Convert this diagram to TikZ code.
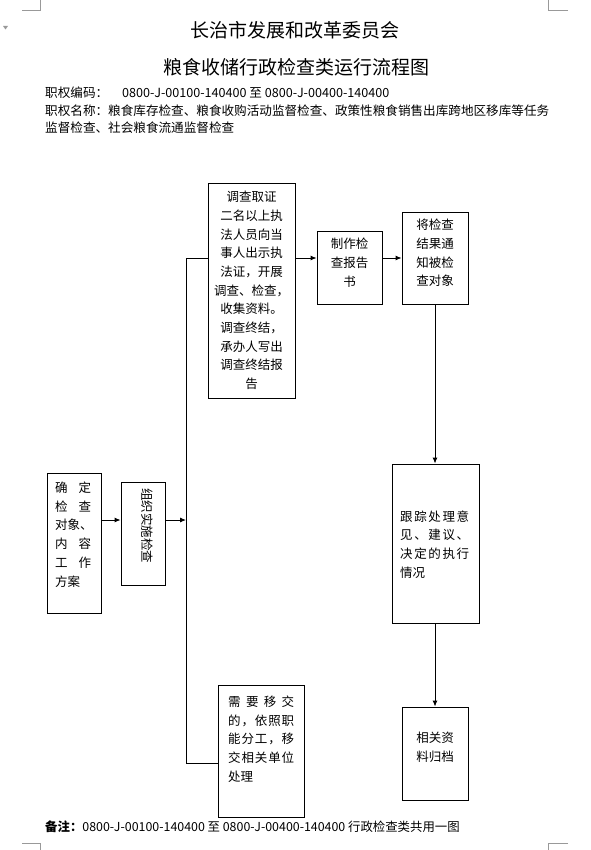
\documentclass[tikz,border=0pt]{standalone}
\usepackage{fontspec}
\setmainfont{Noto Sans CJK SC}
\usetikzlibrary{arrows.meta}
\begin{document}
\begin{tikzpicture}[x=1pt,y=-1pt,
  box/.style={draw=black, line width=0.9pt, inner sep=0pt},
  txt/.style={inner sep=0pt, font=\fontsize{12.5}{18.7}\selectfont},
  hdr/.style={inner sep=0pt, anchor=west, font=\fontsize{12.6}{15}\selectfont},
  ttl/.style={inner sep=0pt, font=\fontsize{19}{22}\selectfont},
  arr/.style={line width=0.9pt, -{Latex[length=6pt,width=5pt]}},
  ln/.style={line width=0.9pt},
  cropmk/.style={draw=black!40, line width=0.6pt}
]
\useasboundingbox (0,0) rectangle (590,850);
% crop marks
\draw[cropmk] (22,10) -- (40,10) -- (40,0);
\draw[cropmk] (568,10) -- (548,10) -- (548,0);
\draw[cropmk] (22,843) -- (40,843) -- (40,850);
\draw[cropmk] (568,843) -- (548,843) -- (548,850);
\fill[black!40] (3,26) -- (8,26) -- (5.5,29.5) -- cycle;

% titles and header
\node[ttl] (t1) at (295,30) {长治市发展和改革委员会};
\node[ttl] (t2) at (296,67) {粮食收储行政检查类运行流程图};
\node[hdr] (h1) at (45,93) {职权编码：\hspace{14pt}0800-J-00100-140400 至 0800-J-00400-140400};
\node[hdr] (h2) at (45,111) {职权名称：粮食库存检查、粮食收购活动监督检查、政策性粮食销售出库跨地区移库等任务};
\node[hdr] (h3) at (45,128) {监督检查、社会粮食流通监督检查};
\node[hdr, font=\fontsize{12.4}{15}\selectfont] (ft) at (45,827) {\bfseries 备注：\mdseries 0800-J-00100-140400 至 0800-J-00400-140400 行政检查类共用一图};

% boxes
\node[box, minimum width=54pt, minimum height=140pt] (a) at (74,543) {};
\node[box, minimum width=44pt, minimum height=103pt] (b) at (143,533.5) {};
\node[box, minimum width=87pt, minimum height=215pt] (c) at (251.5,290.5) {};
\node[box, minimum width=65pt, minimum height=73pt] (d) at (349.5,267.5) {};
\node[box, minimum width=66pt, minimum height=92pt] (e) at (435,258) {};
\node[box, minimum width=87pt, minimum height=159pt] (f) at (435.5,543.5) {};
\node[box, minimum width=66pt, minimum height=93pt] (g) at (435,753.5) {};
\node[box, minimum width=86pt, minimum height=132pt] (h) at (261,751) {};

% texts
\node[txt, anchor=west, align=left] (ta) at (55,534.5) {\makebox[36pt][s]{确\hfill 定}\\\makebox[36pt][s]{检\hfill 查}\\对象、\\\makebox[36pt][s]{内\hfill 容}\\\makebox[36pt][s]{工\hfill 作}\\方案};
\node[txt, rotate=-90] (tb) at (147,525.5) {组织实施检查};
\node[txt, align=center] (tc) at (251.5,290.5) {调查取证\\二名以上执\\法人员向当\\事人出示执\\法证，开展\\调查、检查，\\收集资料。\\调查终结，\\承办人写出\\调查终结报\\告};
\node[txt, align=center] (td) at (349.5,262.5) {制作检\\查报告\\书};
\node[txt, align=center] (te) at (435,253) {将检查\\结果通\\知被检\\查对象};
\node[txt, anchor=west, align=left] (tf) at (400,544.5) {\makebox[69pt][s]{跟\hfill 踪\hfill 处\hfill 理\hfill 意}\\\makebox[69pt][s]{见\hfill 、\hfill 建\hfill 议\hfill 、}\\\makebox[69pt][s]{决\hfill 定\hfill 的\hfill 执\hfill 行}\\情况};
\node[txt, align=center] (tg) at (435,747.5) {相关资\\料归档};
\node[txt, anchor=west, align=left] (th) at (228,739) {\makebox[66pt][s]{需\hfill 要\hfill 移\hfill 交}\\\makebox[66pt][s]{的\hfill ，\hfill 依\hfill 照\hfill 职}\\\makebox[66pt][s]{能\hfill 分\hfill 工\hfill ，\hfill 移}\\\makebox[66pt][s]{交\hfill 相\hfill 关\hfill 单\hfill 位}\\处理};

% connectors
\coordinate (j) at (186,520);
\coordinate (top) at (186,258);
\coordinate (bot) at (186,763);
\draw[arr] (a.east |- j) -- (b.west |- j);
\draw[arr] (b.east |- j) -- (j);
\draw[ln] (top) -- (bot);
\draw[ln] (top) -- (c.west |- top);
\draw[ln] (bot) -- (h.west |- bot);
\draw[arr] (c.east |- top) -- (d.west |- top);
\draw[arr] (d.east |- top) -- (e.west |- top);
\draw[arr] (e.south) -- (e.south |- f.north);
\draw[arr] (e.south |- f.south) -- (e.south |- g.north);
\end{tikzpicture}
\end{document}
